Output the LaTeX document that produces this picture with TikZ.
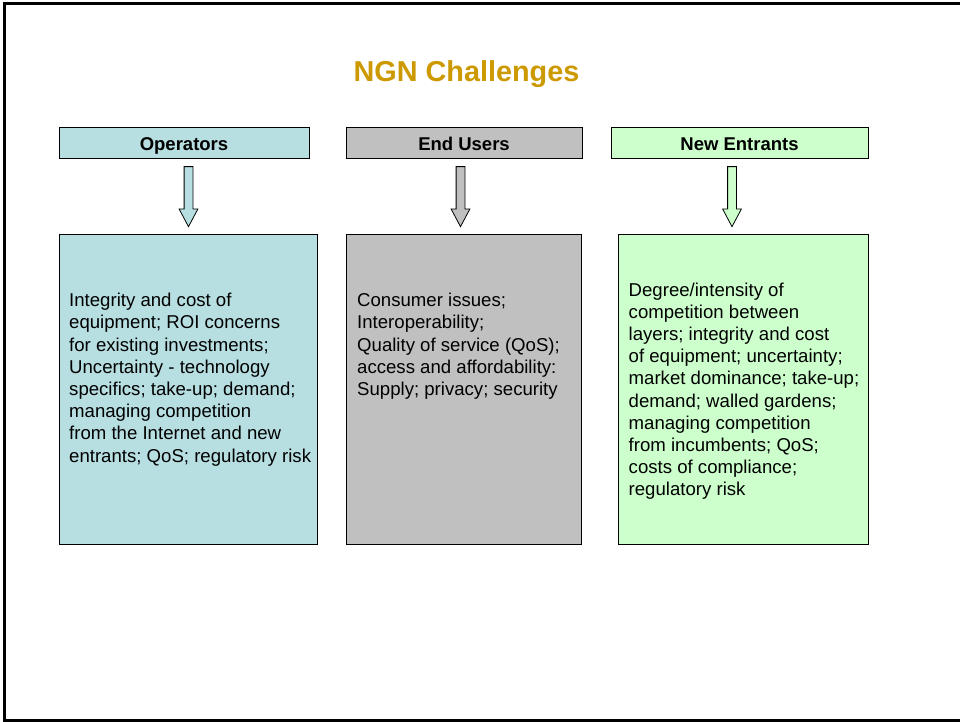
\documentclass[tikz,border=0pt]{standalone}
\usepackage{fontspec}
\setmainfont{Liberation Sans}
\usepackage{xcolor}
\usetikzlibrary{positioning,shapes.arrows}

\definecolor{opsblue}{RGB}{183,222,225}
\definecolor{usergray}{RGB}{192,192,192}
\definecolor{entgreen}{RGB}{204,255,204}
\definecolor{titlegold}{RGB}{204,153,0}

\begin{document}
\begin{tikzpicture}[x=1pt, y=-1pt,
    header/.style={rectangle, draw=black, line width=0.9pt, minimum height=31pt, inner sep=0pt, text height=16pt, text depth=0pt, font=\fontsize{18.5}{21}\selectfont\bfseries},
    bodybox/.style={rectangle, draw=black, line width=0.9pt, minimum height=310pt, inner sep=0pt},
    bodytext/.style={anchor=north west, inner sep=0pt, align=left, font=\fontsize{18.6}{22.2}\selectfont},
    downarrow/.style={single arrow, draw=black, line width=0.8pt, inner sep=4pt, minimum height=60pt, single arrow head extend=5pt, single arrow tip angle=56, shape border rotate=270},
]

\useasboundingbox (0,0) rectangle (960,721);

% frame (right edge falls outside the page)
\draw[line width=3pt] (964,3.3) -- (4,3.3) -- (4,720) -- (964,720);

% title
\node[anchor=base, text=titlegold, font=\fontsize{28.8}{32}\selectfont\bfseries] (title) at (466.5,81) {NGN Challenges};

% === headers ===
\node[header, fill=opsblue,  minimum width=250pt] (ops)  at (184,142.5)   {Operators};
\node[header, fill=usergray, minimum width=236pt] (user) at (464,142.5)   {End Users};
\node[header, fill=entgreen, minimum width=257pt] (ent)  at (739.5,142.5) {New Entrants};

% === block arrows ===
\node[downarrow, fill=opsblue]  (opsarrow)  at (188.5,192.5) {};
\node[downarrow, fill=usergray] (userarrow) at (460.5,192.5) {};
\node[downarrow, fill=entgreen] (entarrow)  at (732,192.5)   {};

% === body boxes ===
\node[bodybox, fill=opsblue,  minimum width=258pt] (opsbody)  at (188,389)   {};
\node[bodybox, fill=usergray, minimum width=235pt] (userbody) at (463.5,389) {};
\node[bodybox, fill=entgreen, minimum width=250pt] (entbody)  at (743,389)   {};

% === body texts ===
\node[bodytext] (opstext) at (69,293) {Integrity and cost of\\
equipment; ROI concerns\\
for existing investments;\\
Uncertainty - technology\\
specifics; take-up; demand;\\
managing competition\\
from the Internet and new\\
entrants; QoS; regulatory risk};

\node[bodytext] (usertext) at (357,293) {Consumer issues;\\
Interoperability;\\
Quality of service (QoS);\\
access and affordability:\\
Supply; privacy; security};

\node[bodytext] (enttext) at (628.5,282.5) {Degree/intensity of\\
competition between\\
layers; integrity and cost\\
of equipment; uncertainty;\\
market dominance; take-up;\\
demand; walled gardens;\\
managing competition\\
from incumbents; QoS;\\
costs of compliance;\\
regulatory risk};

\end{tikzpicture}
\end{document}
